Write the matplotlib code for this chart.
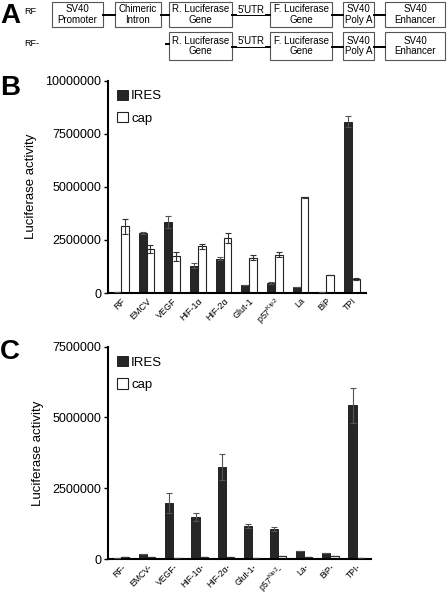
import matplotlib
matplotlib.use('Agg')
import matplotlib.pyplot as plt
from matplotlib.patches import Rectangle
import numpy as np

plt.rcParams['font.family'] = ['Liberation Sans', 'DejaVu Sans']
plt.rcParams['mathtext.fontset'] = 'custom'
plt.rcParams['mathtext.rm'] = 'Liberation Sans'
plt.rcParams['mathtext.it'] = 'Liberation Sans'

# 数据
labels_b = ['RF', 'EMCV', 'VEGF', 'HIF-1α', 'HIF-2α', 'Glut-1', 'p57$^{\\mathrm{Kip2}}$', 'La', 'BiP', 'TPI']
ires_b = [40000, 2830000, 3340000, 1280000, 1620000, 380000, 460000, 300000, 70000, 8070000]
ires_b_err = [0, 50000, 280000, 120000, 90000, 20000, 40000, 0, 0, 280000]
cap_b = [3150000, 2060000, 1730000, 2200000, 2600000, 1670000, 1810000, 4500000, 850000, 660000]
cap_b_err = [350000, 180000, 210000, 120000, 240000, 100000, 100000, 30000, 10000, 50000]

labels_c = ['RF-', 'EMCV-', 'VEGF-', 'HIF-1α-', 'HIF-2α-', 'Glut-1-', 'p57$^{\\mathrm{Kip2}}$-', 'La-', 'BiP-', 'TPI-']
ires_c = [50000, 170000, 1970000, 1480000, 3250000, 1170000, 1060000, 270000, 220000, 5430000]
ires_c_err = [0, 10000, 350000, 130000, 450000, 60000, 70000, 0, 0, 620000]
cap_c = [80000, 60000, 50000, 70000, 70000, 50000, 90000, 80000, 90000, 50000]
cap_c_err = [0, 0, 0, 0, 0, 0, 0, 0, 0, 0]

# 构建示意图 (像素坐标)
row1_boxes = [(52, 103, 'SV40\nPromoter'), (115, 161, 'Chimeric\nIntron'),
              (169, 232, 'R. Luciferase\nGene'), (270, 332, 'F. Luciferase\nGene'),
              (343, 374, 'SV40\nPoly A'), (385, 445, 'SV40\nEnhancer')]
row2_boxes = row1_boxes[2:]

W, H = 448, 594
fig = plt.figure(figsize=(W / 100, H / 100), dpi=100)

# ---------- A ----------
axA = fig.add_axes([0, 0, 1, 1])
axA.set_xlim(0, W)
axA.set_ylim(H, 0)
axA.axis('off')


def draw_row(boxes, y0, y1, lead=None):
    ym = (y0 + y1) / 2 + 0.5
    for k, (x0, x1, txt) in enumerate(boxes):
        axA.add_patch(Rectangle((x0, y0), x1 - x0, y1 - y0, fill=False,
                                edgecolor='#555555', linewidth=0.8))
        axA.text((x0 + x1) / 2, (y0 + y1) / 2, txt, ha='center', va='center',
                 fontsize=7, linespacing=1.05)
        if k + 1 < len(boxes):
            nx = boxes[k + 1][0]
            axA.plot([x1, nx], [ym, ym], color='black', lw=1.4)
            if txt.startswith('R. Luc'):
                axA.text((x1 + nx) / 2, ym - 5, "5'UTR", ha='center',
                         va='center', fontsize=7,
                         bbox=dict(facecolor='white', edgecolor='none', pad=0.3))
    if lead is not None:
        axA.plot([lead, boxes[0][0]], [ym - 3, ym - 3], color='black', lw=1.4)


draw_row(row1_boxes, 2, 27)
draw_row(row2_boxes, 32, 60, lead=165.5)
axA.text(0, 16, 'A', fontsize=20, fontweight='bold', va='center', ha='left')
axA.text(24, 12, 'RF', fontsize=6.5, va='center')
axA.text(24, 44, 'RF-', fontsize=6.5, va='center')
axA.text(0, 88, 'B', fontsize=20, fontweight='bold', va='center', ha='left')
axA.text(0, 352, 'C', fontsize=20, fontweight='bold', va='center', ha='left')


def bar_panel(ax, labels, ires, ires_err, cap, cap_err, ymax, yticks, xfs=6.5):
    x = np.arange(len(labels))
    w = 0.31
    ax.bar(x - w / 2, ires, w, color='#262626', edgecolor='#111111',
           linewidth=0.6, label='IRES', zorder=2)
    ax.bar(x + w / 2, cap, w, color='white', edgecolor='#222222',
           linewidth=0.8, label='cap', zorder=2)
    ax.errorbar(x - w / 2, ires, yerr=ires_err, fmt='none', ecolor='#555555',
                elinewidth=0.8, capsize=2, capthick=0.8, zorder=3)
    ax.errorbar(x + w / 2, cap, yerr=cap_err, fmt='none', ecolor='#333333',
                elinewidth=0.8, capsize=2, capthick=0.8, zorder=3)
    ax.set_xlim(-0.5, 9.55)
    ax.set_ylim(0, ymax)
    ax.set_yticks(yticks)
    ax.set_yticklabels([str(v) for v in yticks], fontsize=9)
    ax.set_xticks(x)
    ax.set_xticklabels(labels, rotation=45, ha='right', rotation_mode='anchor',
                       fontsize=xfs)
    ax.tick_params(axis='x', length=0, pad=2.5)
    ax.tick_params(axis='y', length=3, width=1, pad=2)
    for s in ['top', 'right']:
        ax.spines[s].set_visible(False)
    for s in ['left', 'bottom']:
        ax.spines[s].set_linewidth(1.5)
    ax.set_ylabel('Luciferase activity', fontsize=9.5, labelpad=6)
    ax.legend(loc='upper left', frameon=False, fontsize=9.5, handlelength=0.8,
              handleheight=0.8, handletextpad=0.25, labelspacing=0.75,
              borderaxespad=0.3, bbox_to_anchor=(0.0, 1.0))


axB = fig.add_axes([108 / W, 1 - 293 / H, 258 / W, 212.5 / H])
bar_panel(axB, labels_b, ires_b, ires_b_err, cap_b, cap_b_err, 10000000,
          [0, 2500000, 5000000, 7500000, 10000000])

axC = fig.add_axes([108 / W, 1 - 559 / H, 263 / W, 212.3 / H])
bar_panel(axC, labels_c, ires_c, ires_c_err, cap_c, cap_c_err, 7500000,
          [0, 2500000, 5000000, 7500000], xfs=6.2)

fig.savefig('out.png', dpi=100, facecolor='white')
